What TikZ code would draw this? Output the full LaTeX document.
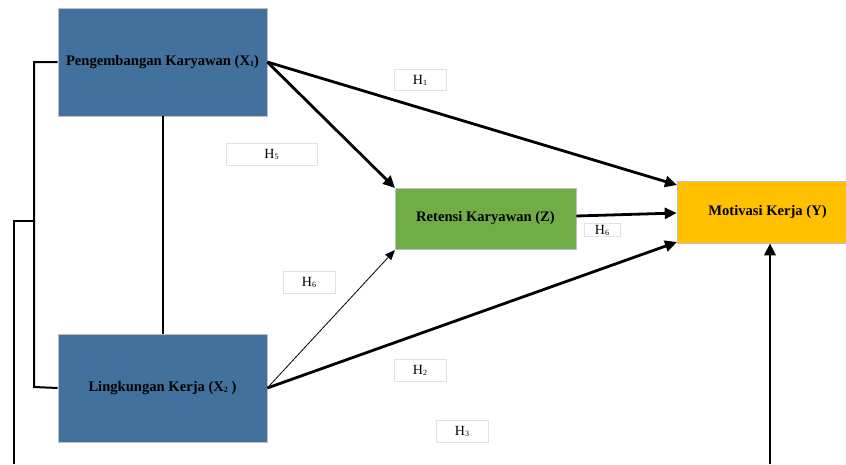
\documentclass[tikz,border=0pt]{standalone}
\usepackage{fontspec}
\setmainfont{Liberation Serif}
\usetikzlibrary{arrows.meta}
\definecolor{boxblue}{RGB}{65,113,156}
\definecolor{boxgreen}{RGB}{112,173,71}
\definecolor{boxyellow}{RGB}{255,192,0}
\definecolor{lblborder}{RGB}{225,225,225}
\newcommand\mysub[1]{\raisebox{-0.15ex}{\fontsize{8}{9}\selectfont #1}}
\tikzset{
  varbox/.style={draw=black!25, line width=0.6pt, inner sep=0pt, font=\fontsize{14.6}{16}\selectfont\bfseries, text=black},
  hlabel/.style={draw=lblborder, fill=white, line width=0.5pt, inner sep=0pt, font=\fontsize{14}{16}\selectfont},
  thickarrow/.style={line width=2.8pt, -{Triangle[length=12pt,width=11pt]}},
  thinarrow/.style={line width=0.8pt, -{Triangle[length=10pt,width=8pt]}},
  plainline/.style={line width=2pt},
}
\begin{document}
\begin{tikzpicture}[x=1pt,y=-1pt]
\useasboundingbox (0,0) rectangle (846,464);
\clip (0,0) rectangle (846,464);
% boxes
\node[varbox, fill=boxblue, minimum width=209pt, minimum height=108pt] (x1) at (162.5,62) {Pengembangan Karyawan (X\mysub{1})};
\node[varbox, fill=boxblue, minimum width=209pt, minimum height=108pt] (x2) at (162.5,388) {Lingkungan Kerja (X\mysub{2} )};
\node[varbox, fill=boxgreen, minimum width=181pt, minimum height=61pt] (z) at (485.5,218.5) {Retensi Karyawan (Z)};
\node[varbox, fill=boxyellow, minimum width=181pt, minimum height=62pt] (y) at (767.5,212) {Motivasi Kerja (Y)};
% labels
\node[hlabel, minimum width=52pt, minimum height=21pt] (h1) at (420,80) {H\mysub{1}};
\node[hlabel, minimum width=91pt, minimum height=22pt] (h5) at (271.5,154) {H\mysub{5}};
\node[hlabel, minimum width=52pt, minimum height=22pt] (h6a) at (309,282) {H\mysub{6}};
\node[hlabel, minimum width=36pt, minimum height=13pt] (h6b) at (602,230) {H\mysub{6}};
\node[hlabel, minimum width=52pt, minimum height=22pt] (h2) at (420,370) {H\mysub{2}};
\node[hlabel, minimum width=52pt, minimum height=22pt] (h3) at (462,431) {H\mysub{3}};
% coordinates
\coordinate (brtop) at (34,62);
\coordinate (brbot) at (34,387);
\coordinate (brmid) at (34,221);
\coordinate (leftturn) at (14,221);
\coordinate (leftend) at (14,464);
\coordinate (bottomend) at (770,464);
\coordinate (yin1) at (677,185);
\coordinate (yin3) at (677,242);
\coordinate (zin1) at (395,188);
\coordinate (zin2) at (395,250);
% connectors
\draw[plainline] (x1.south) -- (x2.north);
\draw[plainline] (x1.west) -- (brtop) -- (brbot) -- (x2.west);
\draw[plainline] (brmid) -- (leftturn) -- (leftend);
\draw[thickarrow] (x1.east) -- (yin1);
\draw[thickarrow] (x1.east) -- (zin1);
\draw[thickarrow] (z.east |- 0,216) -- (y.west |- 0,213);
\draw[thinarrow] (x2.east) -- (zin2);
\draw[thickarrow] (x2.east) -- (yin3);
\draw[thickarrow] (bottomend) -- (y.south -| bottomend);
\end{tikzpicture}
\end{document}
